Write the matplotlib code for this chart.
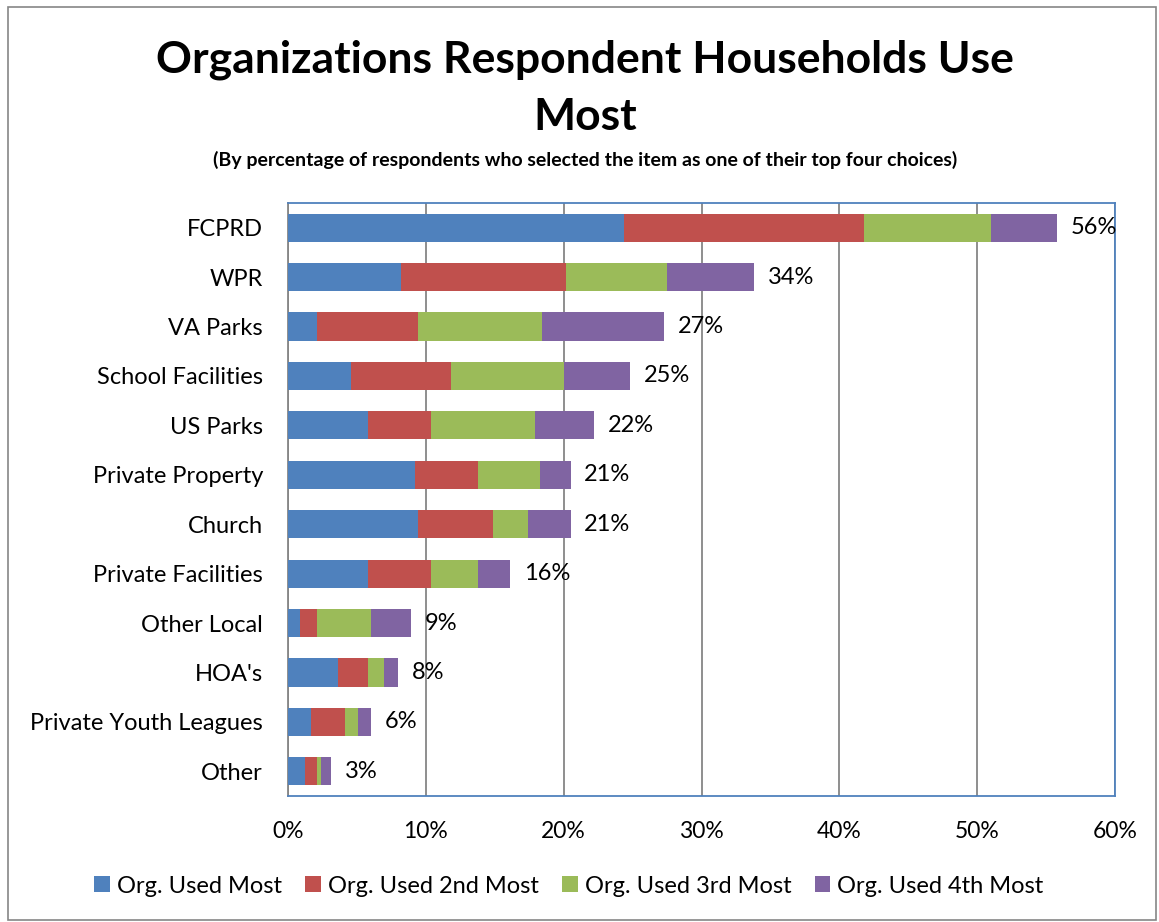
import numpy as np
import matplotlib.pyplot as plt
from matplotlib.patches import Rectangle

# data (percent of respondents)
categories = ['FCPRD', 'WPR', 'VA Parks', 'School Facilities', 'US Parks',
              'Private Property', 'Church', 'Private Facilities', 'Other Local',
              "HOA's", 'Private Youth Leagues', 'Other']
used_most = [24.4, 8.2, 2.1, 4.6, 5.8, 9.2, 9.4, 5.8, 0.9, 3.6, 1.7, 1.2]
used_2nd = [17.4, 12.0, 7.3, 7.2, 4.6, 4.6, 5.5, 4.6, 1.2, 2.2, 2.4, 0.9]
used_3rd = [9.2, 7.3, 9.0, 8.2, 7.5, 4.5, 2.5, 3.4, 3.9, 1.2, 1.0, 0.3]
used_4th = [4.8, 6.3, 8.9, 4.8, 4.3, 2.2, 3.1, 2.3, 2.9, 1.0, 0.9, 0.7]
total_labels = ['56%', '34%', '27%', '25%', '22%', '21%', '21%', '16%',
                '9%', '8%', '6%', '3%']

series = [used_most, used_2nd, used_3rd, used_4th]
series_names = ['Org. Used Most', 'Org. Used 2nd Most', 'Org. Used 3rd Most', 'Org. Used 4th Most']
colors = ['#4F81BD', '#C0504D', '#9BBB59', '#8064A2']

plt.rcParams['font.family'] = ['Lato', 'DejaVu Sans']

fig = plt.figure(figsize=(11.59, 9.22), dpi=100)
ax = fig.add_axes([288 / 1159, 1 - 796 / 922, (1115 - 288) / 1159, (796 - 203) / 922])

y = np.arange(len(categories))
left = np.zeros(len(categories))
for vals, name, c in zip(series, series_names, colors):
    ax.barh(y, vals, left=left, height=0.57, color=c, label=name, zorder=3)
    left = left + np.array(vals)

for yi, tot, lab in zip(y, left, total_labels):
    ax.text(tot + 1.0, yi, lab, va='center', ha='left', fontsize=17, zorder=4)

ax.set_xlim(0, 60)
ax.set_ylim(len(categories) - 0.5, -0.5)
ax.set_yticks(y)
ax.set_yticklabels(categories, fontsize=17)
ax.set_xticks(range(0, 61, 10))
ax.set_xticklabels([f'{v}%' for v in range(0, 61, 10)], fontsize=16.5)
ax.tick_params(axis='y', length=0, pad=18)
ax.tick_params(axis='x', length=0, pad=18)
ax.xaxis.grid(True, color='#868686', linewidth=1.3, zorder=0)

ax.spines['left'].set_color('#868686')
ax.spines['left'].set_linewidth(1.3)
for s in ['top', 'right', 'bottom']:
    ax.spines[s].set_color('#4F81BD')
    ax.spines[s].set_linewidth(1.3)

fig.text(0.505, 1 - 60 / 922, 'Organizations Respondent Households Use', ha='center', va='center',
         fontsize=32, fontweight='bold')
fig.text(0.505, 1 - 117 / 922, 'Most', ha='center', va='center', fontsize=32, fontweight='bold')
fig.text(0.505, 1 - 160 / 922,
         '(By percentage of respondents who selected the item as one of their top four choices)',
         ha='center', va='center', fontsize=14, fontweight='bold')

fig.legend(loc='center', bbox_to_anchor=(569 / 1159, 1 - 886 / 922), ncol=4, frameon=False,
           fontsize=17, handlelength=0.65, handleheight=0.65, handletextpad=0.3, columnspacing=1.0)

fig.patches.append(Rectangle((8 / 1159, 2 / 922), 1148 / 1159, 913 / 922, transform=fig.transFigure,
                             fill=False, edgecolor='#868686', linewidth=1.2))

plt.savefig('out.png', dpi=100)
